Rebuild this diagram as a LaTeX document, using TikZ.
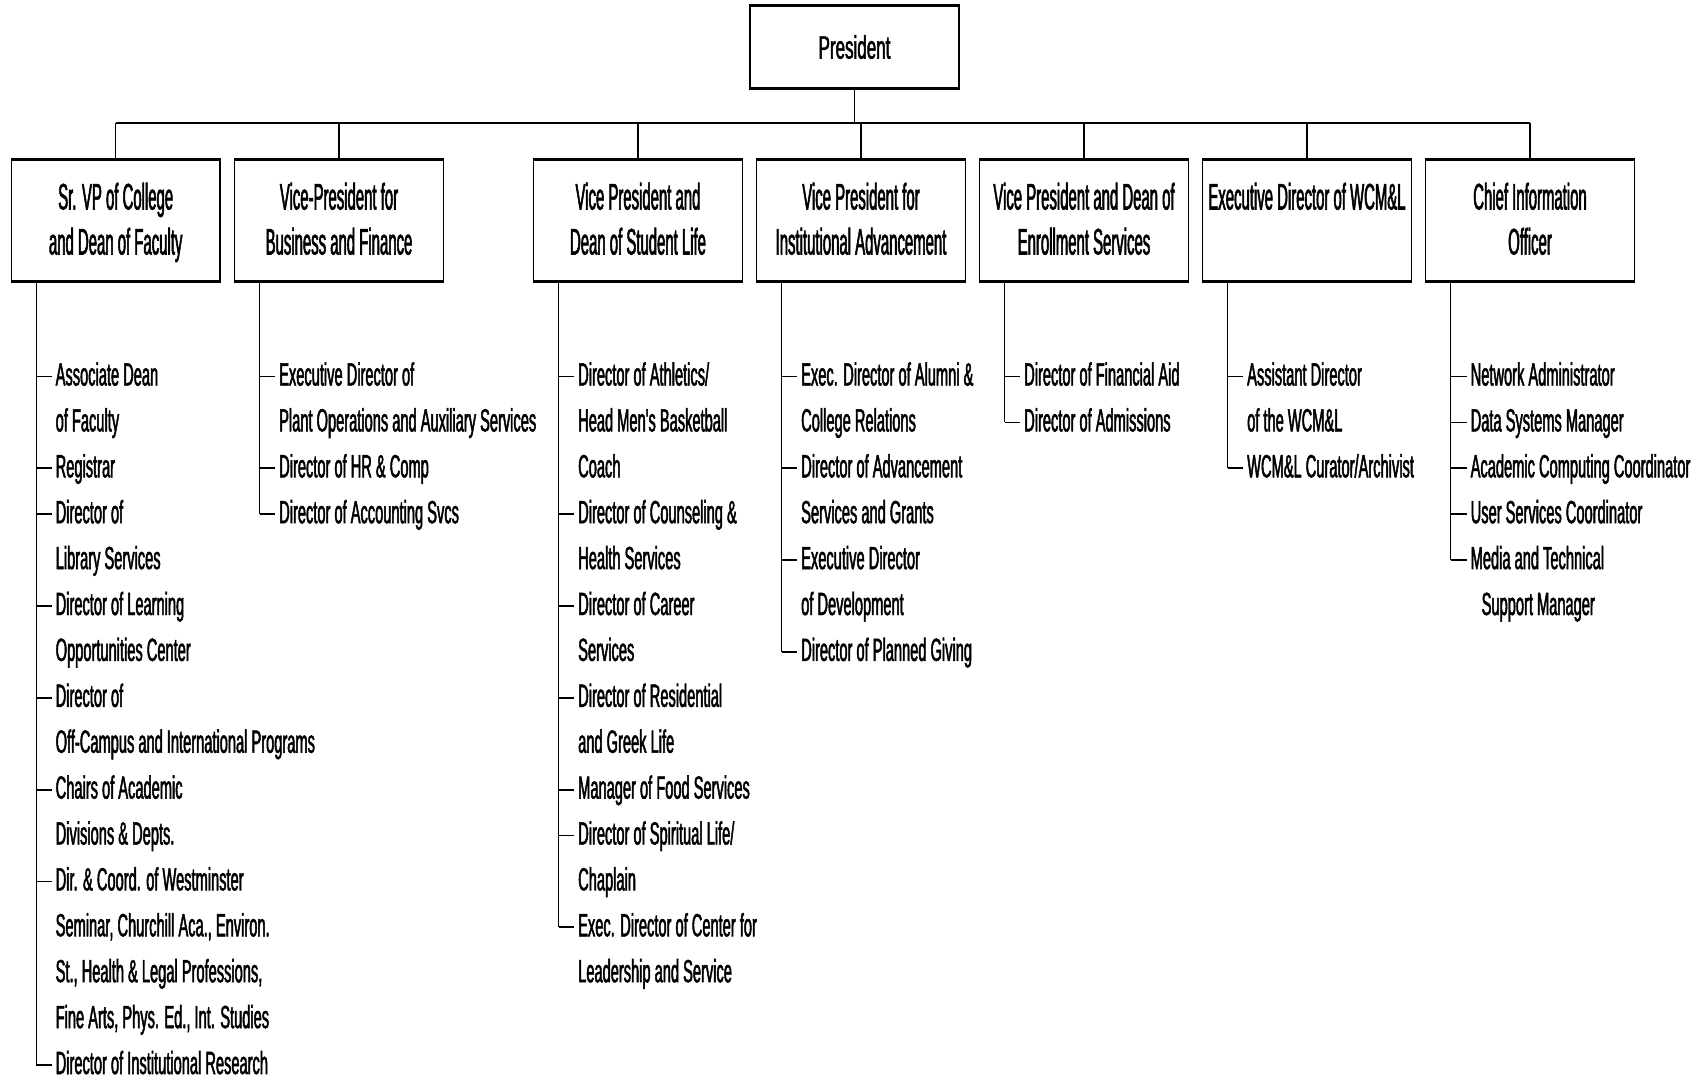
\documentclass[tikz,border=0pt]{standalone}
\usepackage{fontspec}
\setmainfont{Liberation Sans}
% narrow faces for the three text levels
\newfontfamily\itemfam[FakeStretch=0.456,FakeBold=1.5]{Liberation Sans}
\newfontfamily\titlefam[FakeStretch=0.403,FakeBold=1.5]{Liberation Sans}
\newfontfamily\presfam[FakeStretch=0.523,FakeBold=1.5]{Liberation Sans}
\newcommand\itemfnt{\itemfam\fontsize{32.1pt}{45.9pt}\selectfont}
\newcommand\titlefnt{\titlefam\fontsize{37pt}{45pt}\selectfont}
\newcommand\presfnt{\presfam\fontsize{32.5pt}{40pt}\selectfont}
\newcommand\tstrut{\rule[-9.5pt]{0pt}{42pt}}
% one line of a staff list: name, x, row, text
\newcommand\staffline[4]{\node[itm] (#1) at (#2,{385.5+45.9*#3}) {#4};}
% tick from a trunk to a list entry
\newcommand\stafftick[2]{\draw[tick] (#1 |- #2.west) -- ([xshift=-4pt]#2.west);}

\begin{document}
\begin{tikzpicture}[x=1pt,y=-1pt,
  vbox/.style={draw, line width=1.3pt, inner sep=0pt, minimum width=208.5pt,
    minimum height=121pt, align=center, font=\titlefnt},
  pbox/.style={draw, line width=1.3pt, inner sep=0pt, minimum width=209pt,
    minimum height=82pt, font=\presfnt},
  hbar/.style={line width=2.7pt},
  stem/.style={line width=1.3pt},
  trunk/.style={line width=1.3pt},
  tick/.style={line width=1.8pt},
  itm/.style={anchor=base west, inner sep=0pt, text height=23pt, text depth=5pt, font=\itemfnt}]

\useasboundingbox[fill=white] (0,0) rectangle (1705,1078);

% top of the chart
\node[pbox] (pres) at (854.5,47) {President};
\coordinate (bary) at (0,123);

\node[vbox] (b1) at (115.7,220.5) {Sr. VP of College\tstrut\\and Dean of Faculty\tstrut};
\node[vbox] (b2) at (339,220.5) {Vice-President for\tstrut\\Business and Finance\tstrut};
\node[vbox] (b3) at (638,220.5) {Vice President and\tstrut\\Dean of Student Life\tstrut};
\node[vbox] (b4) at (861,220.5) {Vice President for\tstrut\\Institutional Advancement\tstrut};
\node[vbox] (b5) at (1084,220.5) {Vice President and Dean of\tstrut\\Enrollment Services\tstrut};
\node[vbox] (b6) at (1307,220.5) {Executive Director of WCM\&L\tstrut\\\tstrut};
\node[vbox] (b7) at (1530,220.5) {Chief Information\tstrut\\Officer\tstrut};

% heavy top and bottom rules of the boxes
\foreach \b in {pres,b1,b2,b3,b4,b5,b6,b7}{
  \draw[hbar] (\b.north west) -- (\b.north east);
  \draw[hbar] (\b.south west) -- (\b.south east);
}

% connectors from the president to the officers
\draw[stem] (pres.south) -- (pres.south |- bary);
\draw[hbar] (b1.north |- bary) -- (b7.north |- bary);
\foreach \b in {b1,b2,b3,b4,b5,b6,b7}
  \draw[stem] (\b.north) -- (\b.north |- bary);

% trunk anchors below each box
\foreach \b in {1,...,7}
  \coordinate (t\b) at ([xshift=25.5pt]b\b.south west);

% Sr. VP of College
\staffline{c1r0}{55.5}{0}{Associate Dean}
\staffline{c1r1}{55.5}{1}{of Faculty}
\staffline{c1r2}{55.5}{2}{Registrar}
\staffline{c1r3}{55.5}{3}{Director of}
\staffline{c1r4}{55.5}{4}{Library Services}
\staffline{c1r5}{55.5}{5}{Director of Learning}
\staffline{c1r6}{55.5}{6}{Opportunities Center}
\staffline{c1r7}{55.5}{7}{Director of}
\staffline{c1r8}{55.5}{8}{Off-Campus and International Programs}
\staffline{c1r9}{55.5}{9}{Chairs of Academic}
\staffline{c1r10}{55.5}{10}{Divisions \& Depts.}
\staffline{c1r11}{55.5}{11}{Dir. \& Coord. of Westminster}
\staffline{c1r12}{55.5}{12}{Seminar, Churchill Aca., Environ.}
\staffline{c1r13}{55.5}{13}{St., Health \& Legal Professions,}
\staffline{c1r14}{55.5}{14}{Fine Arts, Phys. Ed., Int. Studies}
\staffline{c1r15}{55.5}{15}{Director of Institutional Research}
\draw[trunk] (t1) -- (t1 |- c1r15.west);
\foreach \r in {0,2,3,5,7,9,11,15}{\stafftick{t1}{c1r\r}}

% Business and Finance
\staffline{c2r0}{279}{0}{Executive Director of}
\staffline{c2r1}{279}{1}{Plant Operations and Auxiliary Services}
\staffline{c2r2}{279}{2}{Director of HR \& Comp}
\staffline{c2r3}{279}{3}{Director of Accounting Svcs}
\draw[trunk] (t2) -- (t2 |- c2r3.west);
\foreach \r in {0,2,3}{\stafftick{t2}{c2r\r}}

% Student Life
\staffline{c3r0}{578}{0}{Director of Athletics/}
\staffline{c3r1}{578}{1}{Head Men's Basketball}
\staffline{c3r2}{578}{2}{Coach}
\staffline{c3r3}{578}{3}{Director of Counseling \&}
\staffline{c3r4}{578}{4}{Health Services}
\staffline{c3r5}{578}{5}{Director of Career}
\staffline{c3r6}{578}{6}{Services}
\staffline{c3r7}{578}{7}{Director of Residential}
\staffline{c3r8}{578}{8}{and Greek Life}
\staffline{c3r9}{578}{9}{Manager of Food Services}
\staffline{c3r10}{578}{10}{Director of Spiritual Life/}
\staffline{c3r11}{578}{11}{Chaplain}
\staffline{c3r12}{578}{12}{Exec. Director of Center for}
\staffline{c3r13}{578}{13}{Leadership and Service}
\draw[trunk] (t3) -- (t3 |- c3r12.west);
\foreach \r in {0,3,5,7,9,10,12}{\stafftick{t3}{c3r\r}}

% Institutional Advancement
\staffline{c4r0}{801}{0}{Exec. Director of Alumni \&}
\staffline{c4r1}{801}{1}{College Relations}
\staffline{c4r2}{801}{2}{Director of Advancement}
\staffline{c4r3}{801}{3}{Services and Grants}
\staffline{c4r4}{801}{4}{Executive Director}
\staffline{c4r5}{801}{5}{of Development}
\staffline{c4r6}{801}{6}{Director of Planned Giving}
\draw[trunk] (t4) -- (t4 |- c4r6.west);
\foreach \r in {0,2,4,6}{\stafftick{t4}{c4r\r}}

% Enrollment Services
\staffline{c5r0}{1024}{0}{Director of Financial Aid}
\staffline{c5r1}{1024}{1}{Director of Admissions}
\draw[trunk] (t5) -- (t5 |- c5r1.west);
\foreach \r in {0,1}{\stafftick{t5}{c5r\r}}

% WCM&L
\staffline{c6r0}{1247}{0}{Assistant Director}
\staffline{c6r1}{1247}{1}{of the WCM\&L}
\staffline{c6r2}{1247}{2}{WCM\&L Curator/Archivist}
\draw[trunk] (t6) -- (t6 |- c6r2.west);
\foreach \r in {0,2}{\stafftick{t6}{c6r\r}}

% Information Officer
\staffline{c7r0}{1470.5}{0}{Network Administrator}
\staffline{c7r1}{1470.5}{1}{Data Systems Manager}
\staffline{c7r2}{1470.5}{2}{Academic Computing Coordinator}
\staffline{c7r3}{1470.5}{3}{User Services Coordinator}
\staffline{c7r4}{1470.5}{4}{Media and Technical}
\staffline{c7r5}{1481.5}{5}{Support Manager}
\draw[trunk] (t7) -- (t7 |- c7r4.west);
\foreach \r in {0,1,2,3,4}{\stafftick{t7}{c7r\r}}

\end{tikzpicture}
\end{document}
